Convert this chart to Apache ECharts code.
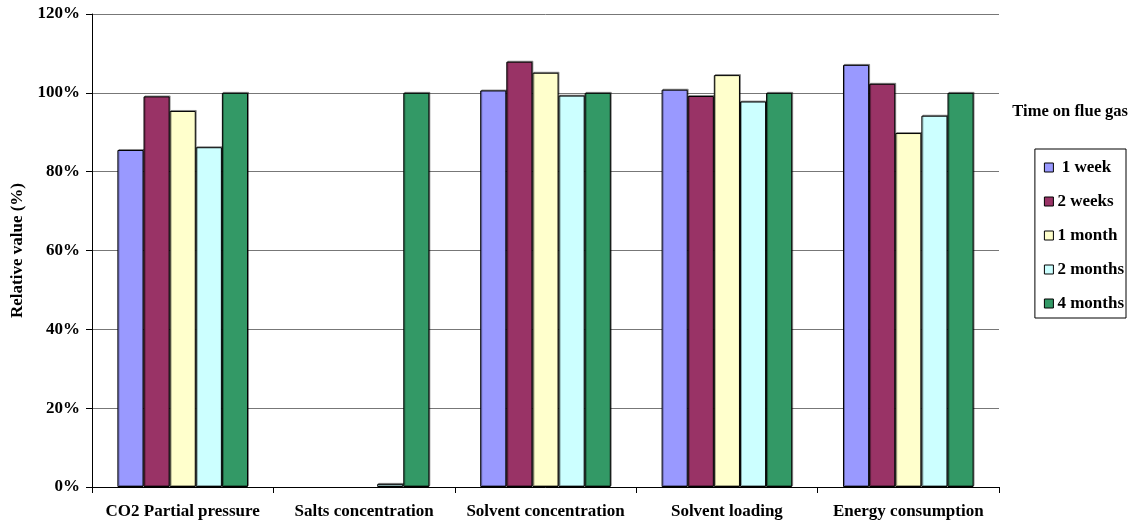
<!DOCTYPE html>
<html>
<head>
<meta charset="utf-8">
<script src="https://cdn.jsdelivr.net/npm/echarts@6/dist/echarts.min.js"></script>
<style>
  html, body { margin: 0; padding: 0; background: #ffffff; }
  #chart { width: 1137px; height: 525px; }
</style>
</head>
<body>
<div id="chart"></div>
<script>
// Relative solvent properties vs. time on flue gas (values in %)
const categories = ['CO2 Partial pressure', 'Salts concentration', 'Solvent concentration', 'Solvent loading', 'Energy consumption'];
const seriesNames = ['1 week', '2 weeks', '1 month', '2 months', '4 months'];
const week1   = [85.5, 0, 100.6, 100.8, 107.1];
const weeks2  = [99.1, 0, 107.9, 99.2, 102.3];
const month1  = [95.4, 0, 105.1, 104.5, 89.8];
const months2 = [86.2, 0.8, 99.3, 97.8, 94.2];
const months4 = [100, 100, 100, 100, 100];
const yTicks = [0, 20, 40, 60, 80, 100, 120];

const values = [week1, weeks2, month1, months2, months4];
const colors = ['#9999FF', '#993366', '#FFFFCC', '#CCFFFF', '#339966'];
const font = '"Liberation Serif", "Times New Roman", serif';

const chart = echarts.init(document.getElementById('chart'));
chart.setOption({
  animation: false,
  backgroundColor: '#ffffff',
  textStyle: { fontFamily: font },
  title: {
    text: 'Time on flue gas',
    right: 9,
    top: 103,
    padding: 0,
    textStyle: { fontFamily: font, fontSize: 16.5, fontWeight: 'bold', color: '#000' }
  },
  legend: {
    orient: 'vertical',
    right: 11,
    top: 149,
    data: seriesNames,
    formatter: name => (name === '1 week' ? ' ' + name : name),
    icon: 'rect',
    itemWidth: 9,
    itemHeight: 9,
    itemGap: 17,
    padding: [10, 2, 6, 9],
    borderColor: '#000',
    borderWidth: 1,
    backgroundColor: '#fff',
    itemStyle: { borderColor: '#000', borderWidth: 1 },
    textStyle: { fontFamily: font, fontSize: 17, fontWeight: 'bold', color: '#000', padding: [0, 0, 0, -1] }
  },
  grid: { left: 92, right: 138, top: 14, bottom: 38, containLabel: false },
  xAxis: {
    type: 'category',
    data: categories,
    axisLine: { lineStyle: { color: '#000', width: 1 } },
    axisTick: { show: true, length: 6, lineStyle: { color: '#000' } },
    axisLabel: { interval: 0, fontFamily: font, fontSize: 17, fontWeight: 'bold', color: '#000', margin: 16 },
    splitLine: { show: false }
  },
  yAxis: {
    type: 'value',
    min: yTicks[0],
    max: yTicks[yTicks.length - 1],
    interval: 20,
    name: 'Relative value (%)',
    nameLocation: 'middle',
    nameGap: 63,
    nameRotate: 90,
    nameTextStyle: { fontFamily: font, fontSize: 17, fontWeight: 'bold', color: '#000' },
    axisLine: { show: true, lineStyle: { color: '#000', width: 1 } },
    axisTick: { show: true, length: 6, lineStyle: { color: '#000' } },
    axisLabel: { fontFamily: font, fontSize: 17, fontWeight: 'bold', color: '#000', margin: 12, formatter: '{value}%' },
    splitLine: { show: true, lineStyle: { color: '#777777', width: 1 } }
  },
  series: seriesNames.map((name, i) => ({
    name: name,
    type: 'bar',
    // empty measurements are left undrawn
    data: values[i].map(v => (v === 0 ? null : v)),
    barGap: '0%',
    barCategoryGap: '28%',
    itemStyle: {
      color: colors[i],
      borderColor: '#000',
      borderWidth: 1,
      shadowColor: 'rgba(0,0,0,0.35)',
      shadowOffsetX: 1,
      shadowOffsetY: -1,
      shadowBlur: 0
    }
  }))
});
</script>
</body>
</html>
